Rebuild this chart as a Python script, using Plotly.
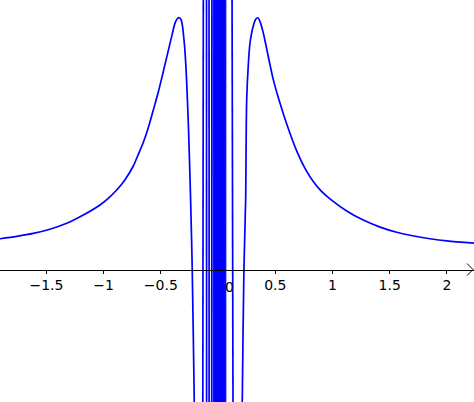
import plotly.graph_objects as go

# Left branch
left_x = [-1.906, -1.760, -1.615, -1.470, -1.323, -1.178, -1.032, -0.960, -0.886,
          -0.810, -0.741, -0.700, -0.654, -0.610, -0.566, -0.520, -0.479, -0.450,
          -0.420, -0.400, -0.377, -0.357, -0.339, -0.322, -0.310, -0.300, -0.290,
          -0.274, -0.257, -0.240, -0.226, -0.208, -0.200]
left_y = [0.269, 0.290, 0.316, 0.352, 0.404, 0.476, 0.564, 0.622, 0.695,
          0.790, 0.905, 1.000, 1.110, 1.240, 1.394, 1.560, 1.729, 1.850,
          1.977, 2.060, 2.152, 2.192, 2.201, 2.180, 2.122, 2.030, 1.918,
          1.630, 1.193, 0.608, 0.013, -1.158, -1.700]

# Right branch
right_x = [0.205, 0.2115, 0.226, 0.241, 0.250, 0.265, 0.279, 0.294, 0.308, 0.328,
           0.346, 0.366, 0.395, 0.425, 0.4825, 0.541, 0.600, 0.687, 0.760, 0.832,
           0.900, 0.978, 1.124, 1.269, 1.410, 1.561, 1.700, 1.852, 2.000, 2.237]
right_y = [-1.700, -1.158, -0.004, 0.608, 1.482, 1.800, 1.980, 2.070, 2.130, 2.185,
           2.201, 2.170, 2.070, 1.930, 1.660, 1.455, 1.272, 1.037, 0.884, 0.769,
           0.687, 0.617, 0.512, 0.432, 0.373, 0.326, 0.295, 0.269, 0.250, 0.231]

# Dense oscillation near 0: positions of near-vertical strokes (top / bottom)
osc_x_top = [-0.1276, -0.1010, -0.0790, -0.0535, 0.1200]
osc_x_bottom = [-0.1346, -0.1000, -0.0780, -0.0560, 0.1330]
band_left = -0.0420
band_right = 0.0680

# Tick labels
tick_vals = [-1.5, -1, -0.5, 0.5, 1, 1.5, 2]
tick_text = ["\u22121.5", "\u22121", "\u22120.5", "0.5", "1", "1.5", "2"]

x_min, x_max = -1.906, 2.237
y_min, y_max = -1.158, 2.356
blue = "#0000FF"

fig = go.Figure()
fig.add_trace(go.Scatter(x=left_x, y=left_y, mode="lines",
                         line=dict(color=blue, width=1.7, shape="spline", smoothing=0.8),
                         hoverinfo="skip"))
fig.add_trace(go.Scatter(x=right_x, y=right_y, mode="lines",
                         line=dict(color=blue, width=1.7, shape="spline", smoothing=0.8),
                         hoverinfo="skip"))

ox, oy = [], []
for xt, xb in zip(osc_x_top, osc_x_bottom):
    ox += [xb, xt, None]
    oy += [y_min - 1, y_max + 1, None]
fig.add_trace(go.Scatter(x=ox, y=oy, mode="lines",
                         line=dict(color=blue, width=1.7), hoverinfo="skip"))

fig.add_trace(go.Scatter(x=[band_left, band_right, band_right, band_left, band_left],
                         y=[y_min - 1, y_min - 1, y_max + 1, y_max + 1, y_min - 1],
                         mode="lines", fill="toself", fillcolor=blue,
                         line=dict(color=blue, width=1), hoverinfo="skip"))

axis_pos = (0 - y_min) / (y_max - y_min)

fig.update_layout(
    width=474, height=402,
    margin=dict(l=0, r=0, t=0, b=0),
    paper_bgcolor="white", plot_bgcolor="white",
    showlegend=False,
    xaxis=dict(range=[x_min, x_max], showgrid=False, zeroline=False,
               anchor="free", position=axis_pos,
               showline=True, linecolor="black", linewidth=1,
               ticks="outside", ticklen=3, tickcolor="black", tickwidth=1,
               tickvals=tick_vals, ticktext=tick_text,
               tickfont=dict(family="DejaVu Sans", size=14, color="black")),
    yaxis=dict(range=[y_min, y_max], showgrid=False, zeroline=False,
               showticklabels=False, showline=False, ticks=""),
    annotations=[dict(x=0, y=0, xref="x", yref="y", text="0", showarrow=False,
                      xshift=11, yshift=-17,
                      font=dict(family="DejaVu Sans", size=14, color="black"))],
    shapes=[dict(type="path", xref="x", yref="y", xsizemode="pixel", ysizemode="pixel",
                 xanchor=x_max, yanchor=0,
                 path="M -7,6 L -1,0 L -7,-6",
                 line=dict(color="black", width=1))],
)

fig.write_html("out.html", config={"displayModeBar": False},
               post_script="document.body.style.margin='0';")
